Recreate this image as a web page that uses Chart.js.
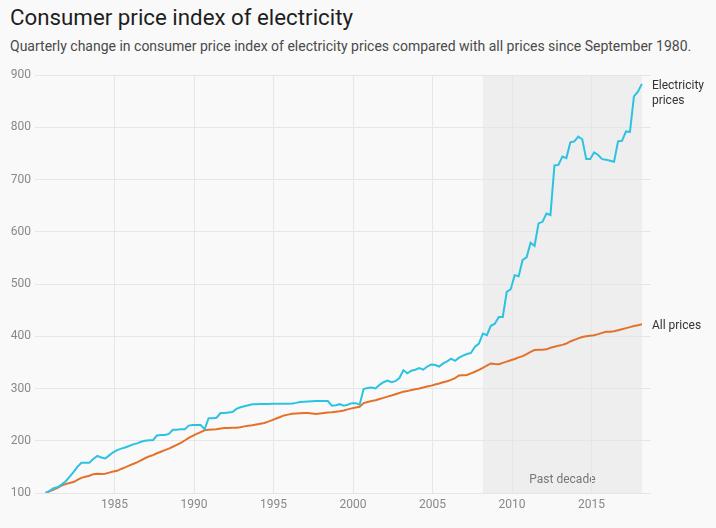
<!DOCTYPE html>
<html lang="en">
<head>
<meta charset="UTF-8">
<meta name="viewport" content="width=device-width, initial-scale=1.0">
<title>Consumer price index of electricity</title>
<script src="https://cdn.jsdelivr.net/npm/chart.js"></script>
<style>
  html, body { margin: 0; padding: 0; background: #f9f9f9; }
  body { width: 716px; height: 528px; position: relative; overflow: hidden; font-family: Roboto, sans-serif; }
  h1 { position: absolute; left: 10px; top: 4px; margin: 0; font-size: 22.3px; font-weight: 400; color: #1e1e1e; white-space: nowrap; }
  .sub { position: absolute; left: 10px; top: 38px; margin: 0; font-size: 14px; color: #4a4a4a; white-space: nowrap; }
  #wrap { position: absolute; left: 0; top: 0; width: 716px; height: 528px; }
</style>
</head>
<body>
  <h1>Consumer price index of electricity</h1>
  <p class="sub">Quarterly change in consumer price index of electricity prices compared with all prices since September 1980.</p>
  <div id="wrap"><canvas id="cpiChart"></canvas></div>

<script>
// first quarter is September 1980, one value per quarter up to March 2018
const firstQuarter = 1980.667;

const electricity = [
  100, 104, 109, 111, 116, 122, 131, 140, 150, 158,
  158, 158, 165, 171, 168, 166, 172, 178, 182, 185,
  187, 190, 193, 195, 198, 200, 201, 201, 210, 211,
  211, 213, 221, 221, 222, 222, 229, 230, 230, 230,
  222, 243, 243, 244, 253, 253, 254, 255, 261, 264,
  266, 268, 270, 270, 270.5, 270.5, 270.5, 271, 271, 271,
  271, 271, 271.5, 272.5, 274, 274.5, 275, 275.5, 276, 276,
  276, 276, 267, 268, 270, 267, 269, 272, 272, 269,
  299, 301, 302, 300, 307, 312, 315, 312, 314, 320,
  335, 329, 334, 336, 339, 336, 342, 346, 345, 342,
  348, 352, 357, 353, 359, 363, 366, 368, 380, 386,
  405, 402, 420, 424, 437, 437, 485, 490, 517, 515,
  546, 551, 579, 573, 616, 619, 635, 632, 727, 728,
  744, 741, 771, 773, 782, 777, 739, 739, 752, 747,
  739, 738, 736, 734, 773, 774, 792, 791, 859, 868,
  883
];

const allPrices = [
  100, 103, 106.5, 110, 114, 117, 119, 121, 125, 129,
  131, 133, 136, 137, 136.5, 137, 139, 141, 142.5, 146,
  149, 152.5, 155.5, 158.5, 162.5, 166.5, 170, 172.5, 176, 179,
  182, 185, 188.5, 192, 196, 200.5, 205.5, 209.5, 213, 216.5,
  220, 221, 221.5, 222, 223.5, 224.5, 224.5, 225, 225, 226,
  227.5, 228.5, 229.5, 231, 232.5, 234, 236.5, 239.5, 242.5, 245.5,
  248.5, 250, 251.5, 252, 252.5, 253, 253, 252, 251, 252,
  253, 254, 254.5, 255.5, 256.5, 258, 260, 262, 263.5, 265,
  272, 274, 276, 277.5, 280, 282, 284.5, 286.5, 289, 291.5,
  294, 295, 297, 298.5, 300, 302, 304, 305.5, 307.5, 309.5,
  312, 314, 316.5, 320, 325, 325.5, 326, 329, 332, 335.5,
  339.5, 344, 348, 347, 346.5, 349, 351.5, 354, 356.5, 359.5,
  362, 366, 370, 373.5, 374, 374, 375, 378, 380, 382,
  383.5, 386, 390, 393, 396, 398.5, 400, 401, 402, 404,
  406.5, 408.5, 408.5, 409.5, 411.5, 413.5, 415.5, 417.5, 419.5, 421,
  423
];

const yearTicks = [1985, 1990, 1995, 2000, 2005, 2010, 2015];
const indexTicks = [100, 200, 300, 400, 500, 600, 700, 800, 900];
const pastDecade = [2008.17, 2018.17];

const toPoints = values => values.map((v, i) => ({ x: firstQuarter + i / 4, y: v }));

// grey band for the last ten years, drawn under the grid
const decadeBand = {
  id: 'decadeBand',
  beforeDraw(chart) {
    const { ctx, chartArea, scales } = chart;
    const x0 = scales.x.getPixelForValue(pastDecade[0]);
    const x1 = scales.x.getPixelForValue(pastDecade[1]);
    ctx.save();
    ctx.fillStyle = '#eeeeee';
    ctx.fillRect(x0, chartArea.top, x1 - x0, chartArea.bottom - chartArea.top);
    ctx.fillStyle = '#777';
    ctx.font = '12px Roboto, sans-serif';
    ctx.textAlign = 'center';
    ctx.textBaseline = 'middle';
    ctx.fillText('Past decade', (x0 + x1) / 2, chartArea.bottom - 13);
    ctx.restore();
  }
};

// series names written at the end of each line
const endLabels = {
  id: 'endLabels',
  afterDatasetsDraw(chart) {
    const { ctx } = chart;
    ctx.save();
    ctx.fillStyle = '#333';
    ctx.font = '12px Roboto, sans-serif';
    ctx.textAlign = 'left';
    ctx.textBaseline = 'middle';
    chart.data.datasets.forEach((ds, di) => {
      const meta = chart.getDatasetMeta(di);
      const last = meta.data[meta.data.length - 1];
      const lines = ds.label.split('\n');
      lines.forEach((line, li) => {
        ctx.fillText(line, last.x + 10, last.y + 2 + li * 15);
      });
    });
    ctx.restore();
  }
};

new Chart(document.getElementById('cpiChart'), {
  type: 'line',
  data: {
    datasets: [
      {
        label: 'Electricity\nprices',
        data: toPoints(electricity),
        borderColor: '#2cc3e2',
        borderWidth: 2,
        pointRadius: 0,
        tension: 0
      },
      {
        label: 'All prices',
        data: toPoints(allPrices),
        borderColor: '#e4712a',
        borderWidth: 2,
        pointRadius: 0,
        tension: 0
      }
    ]
  },
  options: {
    responsive: true,
    maintainAspectRatio: false,
    animation: false,
    layout: { padding: { top: 75, right: 65, bottom: 0, left: 0 } },
    plugins: {
      legend: { display: false },
      tooltip: { enabled: false }
    },
    scales: {
      x: {
        type: 'linear',
        min: 1980,
        max: 2018.74,
        afterBuildTicks: scale => { scale.ticks = yearTicks.map(v => ({ value: v })); },
        afterFit: scale => { scale.height = 35; },
        grid: { color: '#e6e6e6', drawTicks: false },
        border: { display: false },
        ticks: {
          padding: 5,
          color: '#888',
          font: { family: 'Roboto', size: 12 },
          maxRotation: 0,
          autoSkip: false,
          callback: v => String(v)
        }
      },
      y: {
        min: 100,
        max: 900,
        afterBuildTicks: scale => { scale.ticks = indexTicks.map(v => ({ value: v })); },
        afterFit: scale => { scale.width = 35; },
        grid: { color: '#e6e6e6', drawTicks: false },
        border: { display: false },
        ticks: {
          padding: 4,
          color: '#888',
          font: { family: 'Roboto', size: 12 }
        }
      }
    }
  },
  plugins: [decadeBand, endLabels]
});
</script>
</body>
</html>
